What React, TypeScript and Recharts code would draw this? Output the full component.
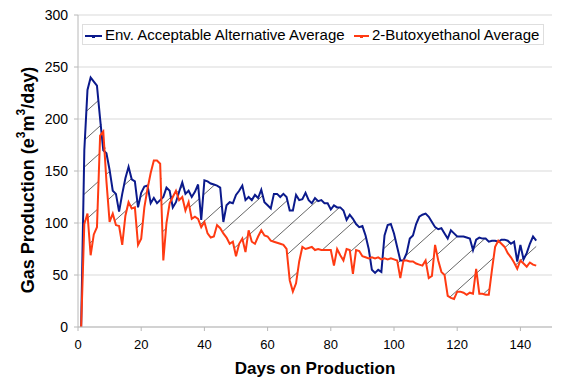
import React from 'react';
import {
  Area,
  CartesianGrid,
  ComposedChart,
  Legend,
  Line,
  XAxis,
  YAxis,
} from 'recharts';

// daily averages, day 1 .. 145 (e3m3/day)
const ALT_AVG = [
  0, 170, 228, 240, 236, 232, 200, 170, 167, 151,
  131, 128, 111, 128, 143, 154, 142, 140, 115, 129,
  135, 136, 119, 124, 119, 122, 125, 134, 131, 115,
  120, 130, 139, 128, 131, 125, 130, 137, 103, 141,
  140, 138, 137, 136, 134, 101, 117, 120, 119, 127,
  131, 136, 122, 125, 122, 127, 124, 132, 120, 117,
  114, 128, 128, 125, 128, 125, 112, 112, 127, 122,
  123, 129, 122, 119, 124, 121, 122, 119, 119, 113,
  117, 115, 115, 112, 103, 108, 104, 99, 96, 97,
  88, 75, 55, 52, 55, 53, 88, 98, 99, 90,
  77, 64, 64, 71, 85, 88, 99, 106, 108, 109,
  106, 101, 96, 94, 95, 90, 85, 93, 90, 87,
  87, 87, 86, 85, 74, 84, 86, 85, 85, 82,
  83, 83, 82, 84, 84, 83, 80, 82, 63, 79,
  65, 71, 80, 87, 83,
];

const BUTOXY_AVG = [
  0, 99, 109, 69, 89, 96, 184, 188, 140, 101,
  109, 98, 97, 79, 107, 120, 114, 115, 79, 85,
  115, 133, 148, 160, 160, 157, 64, 100, 119, 125,
  131, 122, 125, 112, 120, 104, 106, 104, 96, 101,
  90, 86, 87, 98, 95, 90, 86, 80, 82, 68,
  80, 85, 72, 93, 82, 80, 87, 93, 88, 87,
  83, 82, 81, 80, 79, 75, 45, 34, 42, 63,
  77, 75, 76, 77, 74, 75, 74, 74, 74, 74,
  59, 75, 69, 64, 75, 74, 51, 74, 73, 68,
  67, 66, 67, 66, 67, 65, 66, 65, 66, 65,
  64, 47, 64, 64, 63, 63, 61, 60, 59, 64,
  47, 49, 79, 64, 53, 50, 30, 28, 27, 34,
  34, 33, 31, 33, 32, 56, 32, 32, 31, 31,
  55, 77, 83, 80, 77, 71, 67, 62, 56, 64,
  61, 58, 62, 60, 59,
];

const FIRST_DAY = 1;
const X_TICKS = [0, 20, 40, 60, 80, 100, 120, 140];
const Y_TICKS = [0, 50, 100, 150, 200, 250, 300];

const ALT_NAME = 'Env. Acceptable Alternative Average';
const BUTOXY_NAME = '2-Butoxyethanol Average';

const BLUE = '#0b1a8c';
const RED = '#ff3a12';
const FONT = '"Liberation Sans", Arial, sans-serif';

const rows = ALT_AVG.map((alt, i) => {
  const bx = BUTOXY_AVG[i];
  return {
    day: FIRST_DAY + i,
    alt,
    bx,
    // hatched band only where the alternative is above
    band: [bx, Math.max(alt, bx)],
  };
});

function LegendBox() {
  const item = (color: string, left: number, w: number) => (
    <>
      <div style={{ position: 'absolute', left, top: 10, width: w, height: 2, background: color }} />
      <div style={{ position: 'absolute', left: left + w / 2 - 1.5, top: 9.5, width: 3, height: 3, background: color }} />
    </>
  );
  return (
    <div
      style={{
        position: 'relative',
        boxSizing: 'border-box',
        width: 462,
        height: 21,
        border: '1px solid #dedede',
        background: '#fff',
        fontFamily: FONT,
        fontSize: 15,
        lineHeight: '17px',
        color: '#000',
        whiteSpace: 'nowrap',
      }}
    >
      {item(BLUE, 2, 17)}
      <span style={{ position: 'absolute', left: 22, top: 1 }}>{ALT_NAME}</span>
      {item(RED, 271, 15)}
      <span style={{ position: 'absolute', left: 289, top: 1 }}>{BUTOXY_NAME}</span>
    </div>
  );
}

function YTitle() {
  return (
    <text
      x={28}
      y={180}
      transform="rotate(-90 28 180)"
      textAnchor="middle"
      dominantBaseline="central"
      style={{ fontFamily: FONT, fontSize: 18, fontWeight: 700, fill: '#000' }}
    >
      Gas Production (e
      <tspan dy={-7} fontSize={12}>3</tspan>
      <tspan dy={7}>m</tspan>
      <tspan dy={-7} fontSize={12}>3</tspan>
      <tspan dy={7}>/day)</tspan>
    </text>
  );
}

export default function App() {
  return (
    <div style={{ position: 'absolute', left: 0, top: 0, width: 570, height: 386, background: '#fff' }}>
      <ComposedChart
        width={570}
        height={386}
        data={rows}
        margin={{ top: 15, right: 18, left: 0, bottom: 0 }}
        style={{ fontFamily: FONT }}
      >
        <defs>
          <pattern id="hatch" patternUnits="userSpaceOnUse" width={30} height={27}>
            <path d="M0,27 L30,0 M-3,2.7 L3,-2.7 M27,29.7 L33,24.3" stroke="#222" strokeWidth={0.7} />
          </pattern>
        </defs>
        <CartesianGrid stroke="#d9d9d9" vertical={false} />
        <XAxis
          dataKey="day"
          type="number"
          domain={[0, 150]}
          ticks={X_TICKS}
          height={59}
          stroke="#b8b8b8"
          tickSize={4}
          tickMargin={9}
          tick={{ fill: '#000', fontSize: 13 }}
          label={{
            value: 'Days on Production',
            position: 'insideBottom',
            offset: 12,
            style: { fontSize: 17, fontWeight: 700, fill: '#000' },
          }}
        />
        <YAxis
          domain={[0, 300]}
          ticks={Y_TICKS}
          width={78}
          stroke="#b8b8b8"
          tickSize={4}
          tickMargin={6}
          tick={{ fill: '#000', fontSize: 14 }}
          label={<YTitle />}
        />
        <Legend
          layout="horizontal"
          verticalAlign="middle"
          align="center"
          content={() => <LegendBox />}
          wrapperStyle={{ left: 82, top: 24, width: 462, height: 21 }}
        />
        <Area
          dataKey="band"
          type="linear"
          stroke="none"
          fill="url(#hatch)"
          fillOpacity={1}
          legendType="none"
          isAnimationActive={false}
        />
        <Line
          dataKey="alt"
          name={ALT_NAME}
          type="linear"
          stroke={BLUE}
          strokeWidth={2}
          dot={false}
          isAnimationActive={false}
        />
        <Line
          dataKey="bx"
          name={BUTOXY_NAME}
          type="linear"
          stroke={RED}
          strokeWidth={2}
          dot={false}
          isAnimationActive={false}
        />
      </ComposedChart>
    </div>
  );
}
